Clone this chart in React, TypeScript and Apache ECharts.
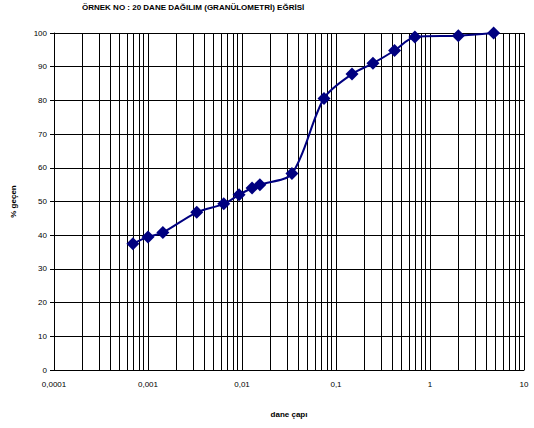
import React, { useEffect, useRef } from "react";
import * as echarts from "echarts";

const titleText = "ÖRNEK NO : 20 DANE DAĞILIM (GRANÜLOMETRİ) EĞRİSİ";
const xAxisName = "dane çapı";
const yAxisName = "% geçen";

const grainSize = [
  0.00069, 0.001, 0.00144, 0.0033, 0.0064, 0.0093, 0.0128, 0.0155, 0.034,
  0.0745, 0.148, 0.247, 0.42, 0.69, 2.0, 4.75,
];
const passing = [
  37.5, 39.5, 40.8, 46.8, 49.3, 52.0, 54.0, 55.0, 58.3, 80.6, 87.8, 91.0,
  94.8, 98.8, 99.2, 100,
];

const xTickLabels = ["0,0001", "0,001", "0,01", "0,1", "1", "10"];
const decadeStarts = [0.0001, 0.001, 0.01, 0.1, 1];
const minorMultipliers = [2, 3, 4, 5, 6, 7, 8, 9];

export default function App() {
  const ref = useRef<HTMLDivElement>(null);

  useEffect(() => {
    if (!ref.current) return;
    const chart = echarts.init(ref.current, undefined, { renderer: "svg" });

    const minorLines: any[] = [];
    decadeStarts.forEach((d) => {
      minorMultipliers.forEach((m) => {
        minorLines.push({ xAxis: +(d * m).toPrecision(6) });
      });
    });

    const font = "'Liberation Sans', Arial, sans-serif";

    chart.setOption({
      animation: false,
      backgroundColor: "#ffffff",
      title: {
        text: titleText,
        left: 82,
        top: 3,
        padding: 0,
        textStyle: {
          fontFamily: font,
          fontSize: 8,
          fontWeight: "bold",
          color: "#000",
        },
      },
      grid: { left: 54, right: 10, top: 33, bottom: 58, containLabel: false },
      xAxis: {
        type: "log",
        logBase: 10,
        min: 0.0001,
        max: 10,
        name: xAxisName,
        nameLocation: "middle",
        nameGap: 40,
        nameTextStyle: {
          fontFamily: font,
          fontSize: 8,
          fontWeight: "bold",
          color: "#000",
        },
        axisLine: { show: true, onZero: false, lineStyle: { color: "#000", width: 1 } },
        axisTick: { show: false },
        axisLabel: {
          fontFamily: font,
          fontSize: 8,
          color: "#000",
          margin: 10,
          showMaxLabel: true,
          showMinLabel: true,
          formatter: (v: number) => {
            const i = Math.round(Math.log10(v)) + 4;
            return xTickLabels[i] ?? "";
          },
        },
        splitLine: { show: true, lineStyle: { color: "#000", width: 1 } },
      },
      yAxis: {
        type: "value",
        min: 0,
        max: 100,
        interval: 10,
        name: yAxisName,
        nameLocation: "middle",
        nameGap: 37,
        nameTextStyle: {
          fontFamily: font,
          fontSize: 8,
          fontWeight: "bold",
          color: "#000",
        },
        axisLine: { show: true, lineStyle: { color: "#000", width: 1 } },
        axisTick: { show: true, length: 4, lineStyle: { color: "#000" } },
        axisLabel: {
          fontFamily: font,
          fontSize: 8,
          color: "#000",
          margin: 7,
        },
        splitLine: { show: true, lineStyle: { color: "#000", width: 1 } },
      },
      series: [
        {
          type: "line",
          data: grainSize.map((x, i) => [x, passing[i]]),
          smooth: 0.3,
          symbol: "diamond",
          symbolSize: 13,
          itemStyle: { color: "#000080" },
          lineStyle: { color: "#000080", width: 2 },
          z: 5,
          markLine: {
            silent: true,
            symbol: "none",
            precision: 10,
            label: { show: false },
            lineStyle: { color: "#000", width: 1, type: "solid" },
            data: minorLines,
            z: 1,
          },
        },
      ],
    });

    return () => chart.dispose();
  }, []);

  return (
    <div
      ref={ref}
      style={{ position: "fixed", left: 0, top: 0, width: 534, height: 428 }}
    />
  );
}
